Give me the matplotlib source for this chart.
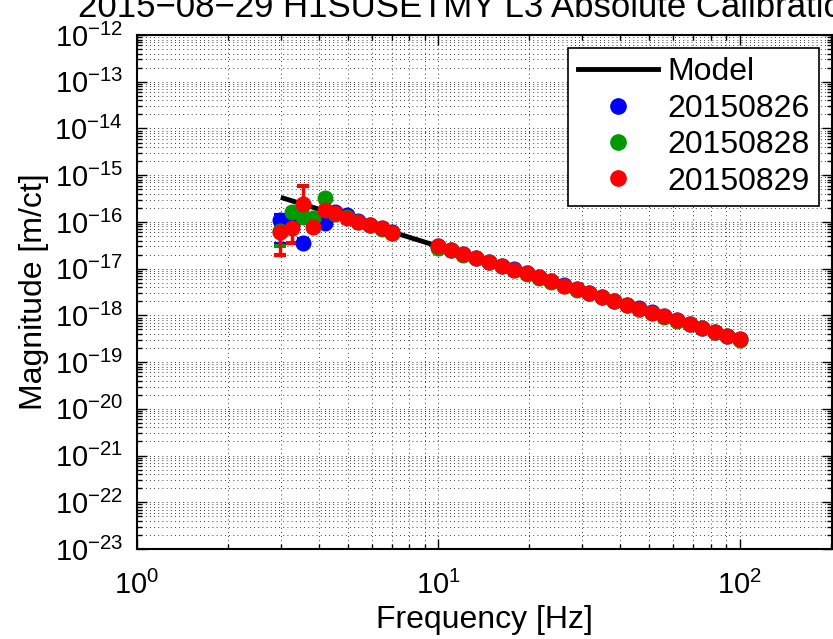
import math
import matplotlib
matplotlib.use('Agg')
import matplotlib.pyplot as plt
from matplotlib.ticker import LogLocator, FuncFormatter, NullFormatter
from matplotlib.lines import Line2D

plt.rcParams['font.family'] = ['Liberation Sans', 'DejaVu Sans']
plt.rcParams['mathtext.fontset'] = 'custom'
plt.rcParams['mathtext.rm'] = 'Liberation Sans'
plt.rcParams['mathtext.it'] = 'Liberation Sans:italic'
plt.rcParams['mathtext.bf'] = 'Liberation Sans:bold'

# ---------------- data ----------------
title = "2015\u221208\u221229 H1SUSETMY L3 Absolute Calibration"
xlabel = "Frequency [Hz]"
ylabel = "Magnitude [m/ct]"
series_labels = ["20150826", "20150828", "20150829"]
series_colors = ["#0000ff", "#009900", "#ff0000"]

model_freq = [3.0, 10.0, 100.0]
model_mag = [3.35e-16, 3.0e-17, 3.0e-19]

freq = [2.98, 3.27, 3.55, 3.84, 4.20, 4.54, 4.97, 5.41, 5.93, 6.50, 7.00,
        10.0, 11.0, 12.1, 13.3, 14.7, 16.2, 17.8, 19.6, 21.5, 23.7, 26.1,
        28.7, 31.6, 34.8, 38.3, 42.2, 46.4, 51.1, 56.2, 61.9, 68.1, 75.0,
        82.5, 90.9, 100.0]

mag_0826 = [1.1e-16, 9.0e-17, 3.6e-17, 1.0e-16, 9.5e-17, 1.6e-16, 1.4e-16,
            1.05e-16, 8.8e-17, 7.3e-17, 6.0e-17,
            3.05e-17, 2.52e-17, 2.08e-17, 1.72e-17, 1.42e-17, 1.16e-17,
            9.6e-18, 8.0e-18, 6.6e-18, 5.5e-18, 4.4e-18, 3.65e-18, 3.05e-18,
            2.5e-18, 2.07e-18, 1.70e-18, 1.41e-18, 1.16e-18, 9.6e-19, 7.9e-19,
            6.55e-19, 5.4e-19, 4.45e-19, 3.68e-19, 3.08e-19]
mag_0828 = [6.5e-17, 1.6e-16, 1.3e-16, 1.2e-16, 3.2e-16, 1.5e-16, 1.25e-16,
            1.0e-16, 8.6e-17, 7.2e-17, 5.8e-17,
            2.8e-17, 2.45e-17, 2.0e-17, 1.68e-17, 1.38e-17, 1.13e-17, 9.3e-18,
            7.7e-18, 6.4e-18, 5.3e-18, 4.3e-18, 3.55e-18, 2.95e-18, 2.45e-18,
            2.02e-18, 1.66e-18, 1.38e-18, 1.13e-18, 9.4e-19, 7.7e-19, 6.4e-19,
            5.3e-19, 4.35e-19, 3.6e-19, 3.0e-19]
mag_0829 = [6.0e-17, 7.4e-17, 2.4e-16, 7.7e-17, 1.8e-16, 1.55e-16, 1.2e-16,
            1.0e-16, 8.5e-17, 7.4e-17, 5.7e-17,
            3.0e-17, 2.5e-17, 2.05e-17, 1.70e-17, 1.40e-17, 1.15e-17, 9.5e-18,
            7.9e-18, 6.5e-18, 5.4e-18, 4.35e-18, 3.6e-18, 3.0e-18, 2.48e-18,
            2.05e-18, 1.68e-18, 1.40e-18, 1.15e-18, 9.5e-19, 7.8e-19, 6.5e-19,
            5.35e-19, 4.4e-19, 3.65e-19, 3.05e-19]

# error-bar bounds (lower / upper) for the low-frequency points
lo_0826 = [3.3e-17, 7.5e-17, 3.0e-17, 8.5e-17, 8.0e-17, 1.35e-16, 1.2e-16, 9.0e-17, 7.5e-17, 6.2e-17, 5.1e-17]
hi_0826 = [1.4e-16, 1.05e-16, 4.3e-17, 1.2e-16, 1.1e-16, 1.85e-16, 1.6e-16, 1.2e-16, 1.0e-16, 8.4e-17, 6.9e-17]
lo_0828 = [3.1e-17, 1.35e-16, 1.1e-16, 1.0e-16, 2.7e-16, 1.25e-16, 1.05e-16, 8.5e-17, 7.3e-17, 6.1e-17, 4.9e-17]
hi_0828 = [8.5e-17, 1.9e-16, 1.55e-16, 1.4e-16, 3.8e-16, 1.75e-16, 1.45e-16, 1.15e-16, 1.0e-16, 8.3e-17, 6.7e-17]
lo_0829 = [2.0e-17, 3.6e-17, 1.9e-16, 6.5e-17, 1.5e-16, 1.3e-16, 1.0e-16, 8.5e-17, 7.2e-17, 6.3e-17, 4.8e-17]
hi_0829 = [1.1e-16, 9.0e-17, 6.0e-16, 9.2e-17, 2.1e-16, 1.8e-16, 1.4e-16, 1.15e-16, 9.8e-17, 8.5e-17, 6.6e-17]

# ---------------- figure ----------------
fig = plt.figure(figsize=(8.33, 6.39), dpi=100)
ax = fig.add_axes([137 / 833, 1 - 549 / 639, (832 - 137) / 833, (549 - 35) / 639])
ax.set_xscale('log')
ax.set_yscale('log')

ax.plot(model_freq, model_mag, color='k', lw=3.5, label='Model', zorder=2,
        solid_capstyle='butt')

all_mags = [mag_0826, mag_0828, mag_0829]
all_lo = [lo_0826, lo_0828, lo_0829]
all_hi = [hi_0826, hi_0828, hi_0829]
nlow = len(lo_0826)
for mags, lo, hi, lab, col in zip(all_mags, all_lo, all_hi, series_labels, series_colors):
    err_lo = [m - l for m, l in zip(mags[:nlow], lo)] + [0.0] * (len(mags) - nlow)
    err_hi = [h - m for m, h in zip(mags[:nlow], hi)] + [0.0] * (len(mags) - nlow)
    ax.errorbar(freq, mags, yerr=[err_lo, err_hi], fmt='o', color=col,
                ms=10.5, mec=col, mfc=col, elinewidth=2.5, capsize=4.5,
                capthick=3, zorder=3, label=lab)

ax.set_xlim(1, 202)
ax.set_ylim(1e-23, 1e-12)

ax.xaxis.set_major_locator(LogLocator(base=10, numticks=20))
ax.yaxis.set_major_locator(LogLocator(base=10, numticks=20))
ax.xaxis.set_minor_locator(LogLocator(base=10, subs=range(2, 10), numticks=100))
ax.yaxis.set_minor_locator(LogLocator(base=10, subs=range(2, 10), numticks=100))
fmt = FuncFormatter(lambda v, p: r'$\mathregular{10^{%d}}$' % round(math.log10(v)))
ax.xaxis.set_major_formatter(fmt)
ax.yaxis.set_major_formatter(fmt)
ax.xaxis.set_minor_formatter(NullFormatter())
ax.yaxis.set_minor_formatter(NullFormatter())

ax.grid(True, which='both', color='k', linestyle=(0, (1, 4)), linewidth=0.6)
ax.tick_params(which='both', direction='in', top=True, right=True, labelsize=21,
               width=1.0)
ax.tick_params(which='major', length=7)
ax.tick_params(axis='y', which='major', pad=10)
ax.tick_params(axis='x', which='major', pad=16)
ax.tick_params(which='minor', length=3.5)
for s in ax.spines.values():
    s.set_linewidth(1.5)

ax.set_xlabel(xlabel, fontsize=23, labelpad=3)
ax.set_ylabel(ylabel, fontsize=23, labelpad=4)
fig.text(78 / 833, 1 - 17 / 639, title, fontsize=25, ha='left', va='baseline')

h2 = [Line2D([], [], color='k', lw=3.5)] + [
    Line2D([], [], ls='none', marker='o', ms=11, color=c) for c in series_colors]
leg = ax.legend(h2, ['Model'] + series_labels, loc='upper right', fontsize=23,
                frameon=True, fancybox=False, edgecolor='k', framealpha=1,
                handlelength=2.5, handletextpad=0.3, labelspacing=0.2,
                borderaxespad=0.4, borderpad=0.3)
leg.get_frame().set_linewidth(1.2)

fig.savefig('out.png', dpi=100)
